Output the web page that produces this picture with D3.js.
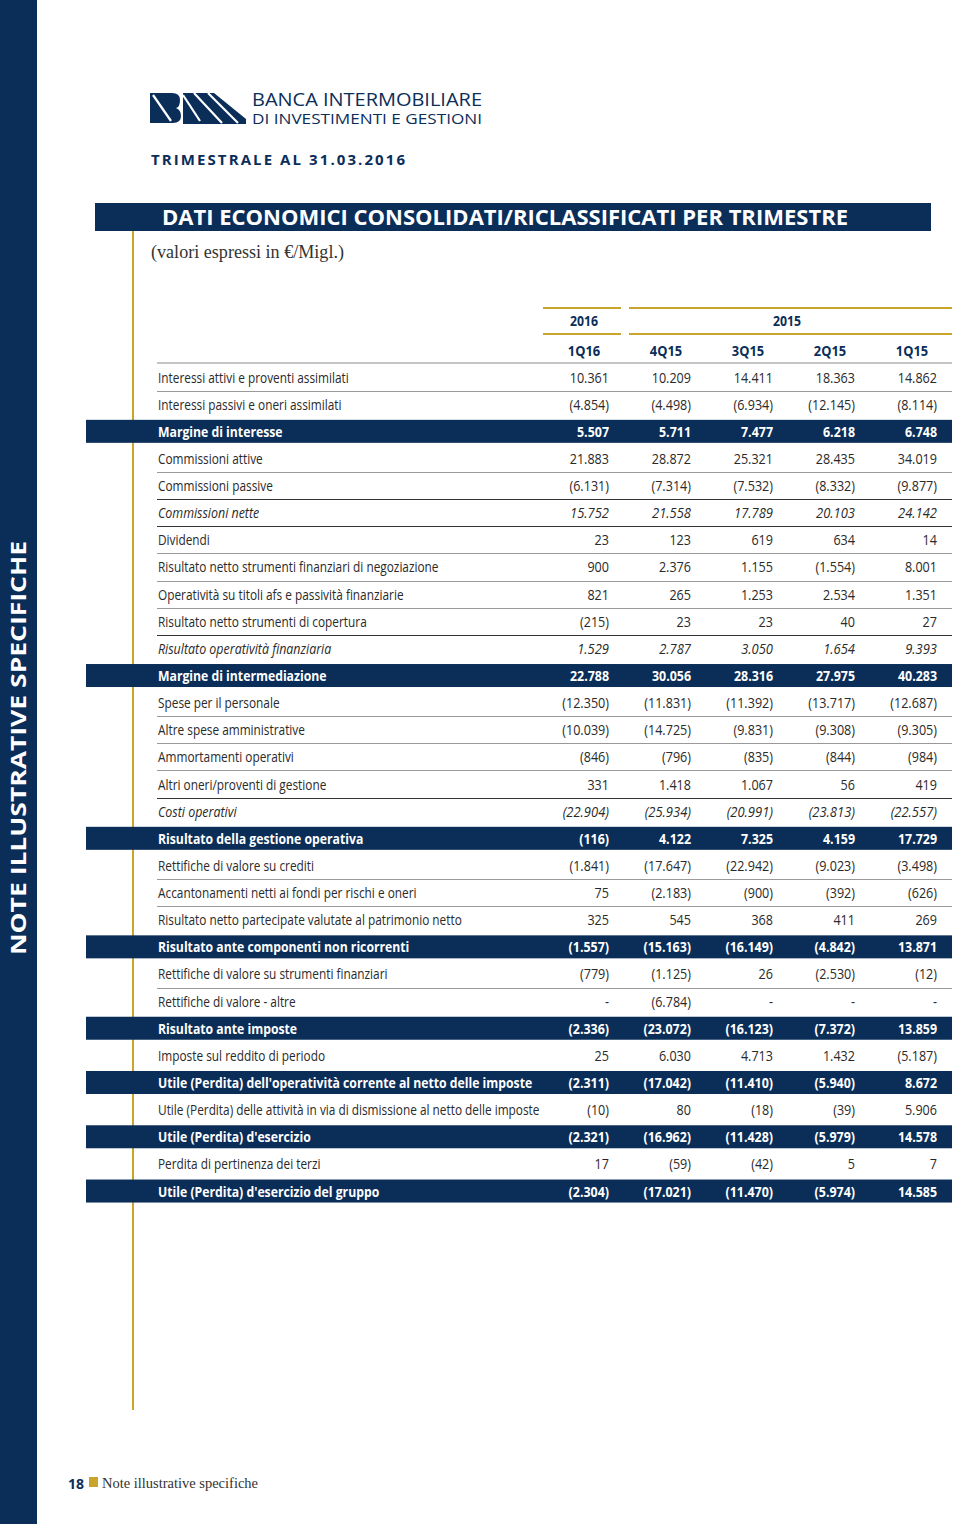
<!DOCTYPE html>
<html><head><meta charset="utf-8">
<script src="https://cdn.jsdelivr.net/npm/d3@7"></script>
<style>html,body{margin:0;padding:0;background:#fff}svg{display:block}</style>
</head><body>
<svg id="c" width="960" height="1524"></svg>
<script>
// ---- data ----
const years = ["2016", "2015"];
const quarters = ["1Q16", "4Q15", "3Q15", "2Q15", "1Q15"];
const labels = [
  "Interessi attivi e proventi assimilati",
  "Interessi passivi e oneri assimilati",
  "Margine di interesse",
  "Commissioni attive",
  "Commissioni passive",
  "Commissioni nette",
  "Dividendi",
  "Risultato netto strumenti finanziari di negoziazione",
  "Operatività su titoli afs e passività finanziarie",
  "Risultato netto strumenti di copertura",
  "Risultato operatività finanziaria",
  "Margine di intermediazione",
  "Spese per il personale",
  "Altre spese amministrative",
  "Ammortamenti operativi",
  "Altri oneri/proventi di gestione",
  "Costi operativi",
  "Risultato della gestione operativa",
  "Rettifiche di valore su crediti",
  "Accantonamenti netti ai fondi per rischi e oneri",
  "Risultato netto partecipate valutate al patrimonio netto",
  "Risultato ante componenti non ricorrenti",
  "Rettifiche di valore su strumenti finanziari",
  "Rettifiche di valore - altre",
  "Risultato ante imposte",
  "Imposte sul reddito di periodo",
  "Utile (Perdita) dell'operatività corrente al netto delle imposte",
  "Utile (Perdita) delle attività in via di dismissione al netto delle imposte",
  "Utile (Perdita) d'esercizio",
  "Perdita di pertinenza dei terzi",
  "Utile (Perdita) d'esercizio del gruppo"
];
// row kind: n = normal, h = highlighted total, i = italic subtotal
const rowKinds = ["n","n","h","n","n","i","n","n","n","n","i","h","n","n","n","n","i","h","n","n","n","h","n","n","h","n","h","n","h","n","h"];
const q1_16 = [10361,-4854,5507,21883,-6131,15752,23,900,821,-215,1529,22788,-12350,-10039,-846,331,-22904,-116,-1841,75,325,-1557,-779,null,-2336,25,-2311,-10,-2321,17,-2304];
const q4_15 = [10209,-4498,5711,28872,-7314,21558,123,2376,265,23,2787,30056,-11831,-14725,-796,1418,-25934,4122,-17647,-2183,545,-15163,-1125,-6784,-23072,6030,-17042,80,-16962,-59,-17021];
const q3_15 = [14411,-6934,7477,25321,-7532,17789,619,1155,1253,23,3050,28316,-11392,-9831,-835,1067,-20991,7325,-22942,-900,368,-16149,26,null,-16123,4713,-11410,-18,-11428,-42,-11470];
const q2_15 = [18363,-12145,6218,28435,-8332,20103,634,-1554,2534,40,1654,27975,-13717,-9308,-844,56,-23813,4159,-9023,-392,411,-4842,-2530,null,-7372,1432,-5940,-39,-5979,5,-5974];
const q1_15 = [14862,-8114,6748,34019,-9877,24142,14,8001,1351,27,9393,40283,-12687,-9305,-984,419,-22557,17729,-3498,-626,269,13871,-12,null,13859,-5187,8672,5906,14578,7,14585];
const series = [q1_16, q4_15, q3_15, q2_15, q1_15];

// ---- styles ----
const NAVY = "#0b2e59", GOLD = "#c9a52c", TXT = "#2a2a2a";
const SANS = "'Open Sans', 'DejaVu Sans', sans-serif";
const SERIF = "'Liberation Serif', 'DejaVu Serif', serif";
// horizontal compression factors to mimic the condensed face
const SX_LABEL = {n: 0.79, i: 0.83, h: 0.815};
const SX_NUM = {n: 0.84, i: 0.865, h: 0.83};

const svg = d3.select("#c");
const itFmt = d3.formatLocale({decimal: ",", thousands: ".", grouping: [3], currency: ["", "€"]}).format(",d");
const fmt = v => v == null ? "-" : (v < 0 ? "(" + itFmt(-v) + ")" : itFmt(v));

function ctext(g, x, y, s, o) {
  o = o || {};
  return g.append("text")
    .attr("transform", `translate(${x},${y}) scale(${o.sx == null ? 0.8 : o.sx},1)`)
    .attr("text-anchor", o.anchor || "start")
    .attr("font-family", o.family || SANS)
    .attr("font-size", o.size || 14)
    .attr("font-weight", o.weight || "normal")
    .attr("font-style", o.style || "normal")
    .attr("fill", o.fill || TXT)
    .text(s);
}

// ---- page frame ----
svg.append("rect").attr("x", 0).attr("y", 0).attr("width", 37).attr("height", 1524).attr("fill", NAVY);
svg.append("text")
  .attr("transform", "translate(26,748) rotate(-90)")
  .attr("text-anchor", "middle")
  .attr("font-family", SANS).attr("font-weight", "bold").attr("font-size", 22)
  .attr("textLength", 414).attr("lengthAdjust", "spacingAndGlyphs")
  .attr("fill", "#fff").text("NOTE ILLUSTRATIVE SPECIFICHE");

// logo
const logo = svg.append("g");
logo.append("path").attr("fill", NAVY)
  .attr("d", "M150,93 H172 Q180,93 180,100 Q180,107 176,108 Q181,110 181,116 Q181,123 173,123 H150 Z");
logo.append("path").attr("fill", NAVY)
  .attr("d", "M183,93 H214 L246,119 V124 H183 Z");
[[153,95,171,121],[183,95,200,121],[194,93,222,123],[208,93,238,123]].forEach(l =>
  logo.append("line").attr("x1", l[0]).attr("y1", l[1]).attr("x2", l[2]).attr("y2", l[3])
    .attr("stroke", "#fff").attr("stroke-width", 2.2));
svg.append("text").attr("x", 252).attr("y", 106).attr("font-family", SANS).attr("font-size", 17.5)
  .attr("textLength", 230).attr("lengthAdjust", "spacingAndGlyphs").attr("fill", NAVY).text("BANCA INTERMOBILIARE");
svg.append("text").attr("x", 252).attr("y", 124).attr("font-family", SANS).attr("font-size", 14.5)
  .attr("textLength", 230).attr("lengthAdjust", "spacingAndGlyphs").attr("fill", NAVY).text("DI INVESTIMENTI E GESTIONI");

svg.append("text").attr("x", 151).attr("y", 165).attr("font-family", SANS).attr("font-size", 15)
  .attr("font-weight", "bold").attr("textLength", 254).attr("lengthAdjust", "spacing")
  .attr("fill", NAVY).text("TRIMESTRALE AL 31.03.2016");

// title bar
svg.append("rect").attr("x", 95).attr("y", 203).attr("width", 836).attr("height", 28).attr("fill", NAVY);
svg.append("text").attr("x", 162).attr("y", 225).attr("font-family", SANS).attr("font-size", 21)
  .attr("font-weight", "bold").attr("textLength", 686).attr("lengthAdjust", "spacingAndGlyphs")
  .attr("fill", "#fff").text("DATI ECONOMICI CONSOLIDATI/RICLASSIFICATI PER TRIMESTRE");
svg.append("text").attr("x", 151).attr("y", 258).attr("font-family", SERIF).attr("font-size", 18)
  .attr("textLength", 193).attr("lengthAdjust", "spacingAndGlyphs")
  .attr("fill", "#333").text("(valori espressi in €/Migl.)");

// gold vertical rule
svg.append("line").attr("x1", 133).attr("x2", 133).attr("y1", 231).attr("y2", 1410)
  .attr("stroke", GOLD).attr("stroke-width", 2);

// footer
svg.append("text").attr("x", 68).attr("y", 1489).attr("font-family", SANS).attr("font-weight", "bold")
  .attr("font-size", 14).attr("fill", NAVY).text("18");
svg.append("rect").attr("x", 89).attr("y", 1477).attr("width", 9).attr("height", 10).attr("fill", GOLD);
svg.append("text").attr("x", 102).attr("y", 1488).attr("font-family", SERIF).attr("font-size", 15)
  .attr("textLength", 156).attr("lengthAdjust", "spacingAndGlyphs").attr("fill", "#333").text("Note illustrative specifiche");

// ---- table ----
const y = d3.scaleBand().domain(d3.range(labels.length)).range([363.5, 1204.6]);
const xr = d3.scalePoint().domain(quarters).range([609, 937]); // right edge of each value column
const tableLeft = 157, tableRight = 952, barLeft = 86;
const rowG = svg.append("g");

// year header
const yearSpans = [{year: years[0], x0: 543, x1: 621, cx: xr(quarters[0]) - 25},
                   {year: years[1], x0: 629, x1: tableRight, cx: 787}];
yearSpans.forEach(s => {
  [308, 334].forEach(yy => rowG.append("line").attr("x1", s.x0).attr("x2", s.x1).attr("y1", yy).attr("y2", yy)
    .attr("stroke", GOLD).attr("stroke-width", 2));
  ctext(rowG, s.cx, 326, s.year, {anchor: "middle", weight: "bold", size: 15, fill: NAVY, sx: 0.82});
});
quarters.forEach(q => ctext(rowG, xr(q) - 25, 356, q, {anchor: "middle", weight: "bold", size: 15, fill: NAVY, sx: 0.86}));
rowG.append("line").attr("x1", tableLeft).attr("x2", tableRight).attr("y1", 363).attr("y2", 363)
  .attr("stroke", "#8a8a8a").attr("stroke-width", 1);

// separators
for (let i = 0; i < labels.length - 1; i++) {
  if (rowKinds[i] === "h" || rowKinds[i + 1] === "h") continue;
  const yy = Math.round(y(i) + y.bandwidth()) + 0.5;
  const dark = rowKinds[i] === "i" || rowKinds[i + 1] === "i";
  rowG.append("line").attr("x1", tableLeft).attr("x2", tableRight).attr("y1", yy).attr("y2", yy)
    .attr("stroke", dark ? "#333" : "#9a9a9a").attr("stroke-width", dark ? 1.2 : 1);
}

// highlight bars
labels.forEach((lab, i) => {
  if (rowKinds[i] !== "h") return;
  const c = y(i) + y.bandwidth() / 2;
  rowG.append("rect").attr("x", barLeft).attr("y", c - 11.5).attr("width", tableRight - barLeft).attr("height", 23).attr("fill", NAVY);
});

// labels and values
labels.forEach((lab, i) => {
  const k = rowKinds[i];
  const base = y(i) + y.bandwidth() / 2 + 5.5;
  const o = {
    size: 15,
    weight: k === "h" ? "bold" : "normal",
    style: k === "i" ? "italic" : "normal",
    fill: k === "h" ? "#fff" : TXT
  };
  ctext(rowG, 158, base, lab, Object.assign({sx: SX_LABEL[k]}, o));
  series.forEach((s, j) => ctext(rowG, xr(quarters[j]), base, fmt(s[i]), Object.assign({anchor: "end", sx: SX_NUM[k]}, o)));
});
</script>
</body></html>
